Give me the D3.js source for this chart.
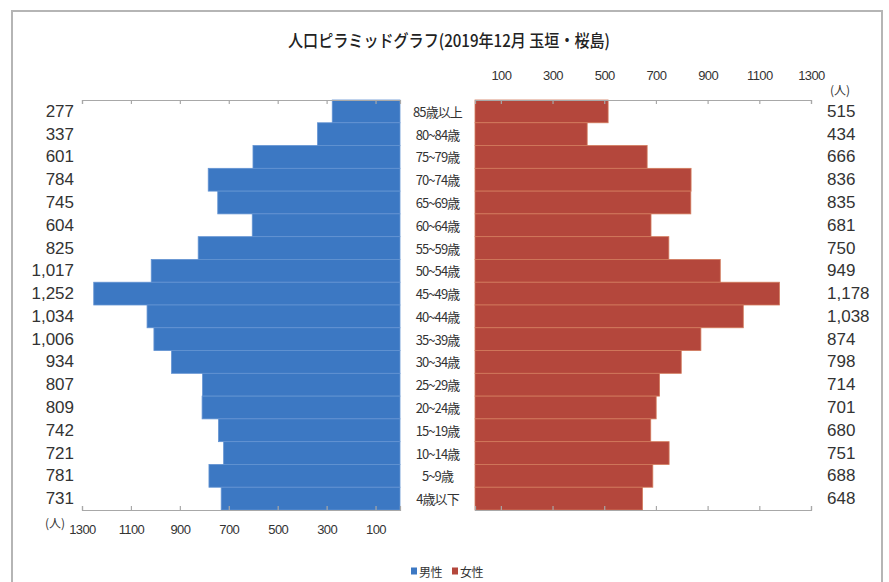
<!DOCTYPE html>
<html>
<head>
<meta charset="utf-8">
<script src="https://cdn.jsdelivr.net/npm/d3@7"></script>
<style>
  html, body { margin: 0; padding: 0; background: #fff; }
  svg { display: block; }
  text { font-family: "Liberation Sans", Arial, sans-serif; }
  .jp { font-family: "Noto Sans CJK JP", "Noto Sans", sans-serif; }
</style>
</head>
<body>
<script>
// Age groups, oldest at the top
const ageGroups = ["85歳以上","80~84歳","75~79歳","70~74歳","65~69歳","60~64歳",
  "55~59歳","50~54歳","45~49歳","40~44歳","35~39歳","30~34歳","25~29歳",
  "20~24歳","15~19歳","10~14歳","5~9歳","4歳以下"];
// Population counts per age group
const male   = [277,337,601,784,745,604,825,1017,1252,1034,1006,934,807,809,742,721,781,731];
const female = [515,434,666,836,835,681,750,949,1178,1038,874,798,714,701,680,751,688,648];
// Axis tick values
const tickValues = [100,300,500,700,900,1100,1300];
const seriesNames = ["男性","女性"];
const titleText = "人口ピラミッドグラフ(2019年12月 玉垣・桜島)";

const W = 889, H = 582;
const blue = "#3C78C3", blueLine = "#6393d2";
const red = "#B4473C", redLine = "#d27a5c";

const svg = d3.select("body").append("svg").attr("width", W).attr("height", H);

// Frame
svg.append("rect").attr("x", 12).attr("y", 11).attr("width", 870).attr("height", 600)
  .attr("fill", "#fff").attr("stroke", "#b5b5b5").attr("stroke-width", 2);

// Title
svg.append("text").attr("class", "jp")
  .attr("x", 449).attr("y", 47).attr("text-anchor", "middle")
  .attr("font-size", 17).attr("font-weight", 500).attr("fill", "#222")
  .attr("textLength", 322).attr("lengthAdjust", "spacingAndGlyphs")
  .text(titleText);

// Scales
const xL = d3.scaleLinear().domain([0, 1300]).range([400, 82]);
const xR = d3.scaleLinear().domain([0, 1300]).range([475, 811]);
const y = d3.scaleBand().domain(ageGroups).range([100, 510]).padding(0);

// Bars
const data = ageGroups.map((a, i) => ({ age: a, m: male[i], f: female[i] }));

svg.append("g").selectAll("rect").data(data).join("rect")
  .attr("x", d => xL(d.m)).attr("y", d => y(d.age))
  .attr("width", d => xL(0) - xL(d.m)).attr("height", y.bandwidth())
  .attr("fill", blue).attr("stroke", blueLine).attr("stroke-width", 0.8);

svg.append("g").selectAll("rect").data(data).join("rect")
  .attr("x", xR(0)).attr("y", d => y(d.age))
  .attr("width", d => xR(d.f) - xR(0)).attr("height", y.bandwidth())
  .attr("fill", red).attr("stroke", redLine).attr("stroke-width", 0.8);

// Axes
const tickFmt = d3.format("d");
function styleAxis(g) {
  g.select(".domain").attr("stroke", "#a8a8a8").attr("stroke-width", 1.2);
  g.selectAll(".tick line").attr("stroke", "#a8a8a8").attr("stroke-width", 1.2);
  g.selectAll(".tick text")
    .attr("font-family", "'Liberation Sans Narrow', 'Liberation Sans', sans-serif")
    .attr("font-size", 13).attr("letter-spacing", -0.6).attr("fill", "#333");
}

// Right panel: labelled top axis, plain bottom axis
svg.append("g").attr("transform", "translate(0,100)")
  .call(d3.axisTop(xR).tickValues(tickValues).tickFormat(tickFmt)
    .tickSizeInner(-4).tickSizeOuter(-4).tickPadding(20))
  .call(styleAxis);
svg.append("g").attr("transform", "translate(0,510)")
  .call(d3.axisBottom(xR).tickValues(tickValues).tickSizeInner(-4).tickSizeOuter(-4).tickFormat(""))
  .call(styleAxis);

// Left panel: plain top axis, labelled bottom axis
svg.append("g").attr("transform", "translate(0,100)")
  .call(d3.axisTop(xL).tickValues(tickValues).tickSizeInner(-4).tickSizeOuter(-4).tickFormat(""))
  .call(styleAxis);
svg.append("g").attr("transform", "translate(0,510)")
  .call(d3.axisBottom(xL).tickValues(tickValues).tickFormat(tickFmt)
    .tickSizeInner(-4).tickSizeOuter(-4).tickPadding(15))
  .call(styleAxis);

// Age labels in the centre gap
svg.append("g").selectAll("text").data(data).join("text")
  .attr("class", "jp")
  .attr("x", (xL(0) + xR(0)) / 2).attr("y", d => y(d.age) + y.bandwidth() / 2)
  .attr("text-anchor", "middle").attr("dominant-baseline", "central")
  .attr("font-size", 13).attr("letter-spacing", -0.9).attr("fill", "#333")
  .text(d => d.age);

// Value labels
const fmt = d3.format(",");
svg.append("g").selectAll("text").data(data).join("text")
  .attr("x", 74).attr("y", d => y(d.age) + y.bandwidth() / 2)
  .attr("text-anchor", "end").attr("dominant-baseline", "central")
  .attr("font-size", 17).attr("fill", "#333")
  .text(d => fmt(d.m));

svg.append("g").selectAll("text").data(data).join("text")
  .attr("x", 827).attr("y", d => y(d.age) + y.bandwidth() / 2)
  .attr("text-anchor", "start").attr("dominant-baseline", "central")
  .attr("font-size", 17).attr("fill", "#333")
  .text(d => fmt(d.f));

// Unit labels
svg.append("text").attr("class", "jp").attr("x", 55).attr("y", 522)
  .attr("text-anchor", "middle").attr("dominant-baseline", "central")
  .attr("font-size", 12).attr("fill", "#333").text("(人)");
svg.append("text").attr("class", "jp").attr("x", 840).attr("y", 89)
  .attr("text-anchor", "middle").attr("dominant-baseline", "central")
  .attr("font-size", 12).attr("fill", "#333").text("(人)");

// Legend
const legend = svg.append("g").attr("transform", "translate(411,571)");
const legendItems = [{ name: seriesNames[0], color: blue, x: 0 }, { name: seriesNames[1], color: red, x: 41 }];
const li = legend.selectAll("g").data(legendItems).join("g")
  .attr("transform", d => `translate(${d.x},0)`);
li.append("rect").attr("x", 0).attr("y", -3.5).attr("width", 6).attr("height", 7).attr("fill", d => d.color);
li.append("text").attr("class", "jp").attr("x", 8).attr("y", 0)
  .attr("dominant-baseline", "central").attr("font-size", 12).attr("letter-spacing", -0.5)
  .attr("fill", "#333").text(d => d.name);
</script>
</body>
</html>
